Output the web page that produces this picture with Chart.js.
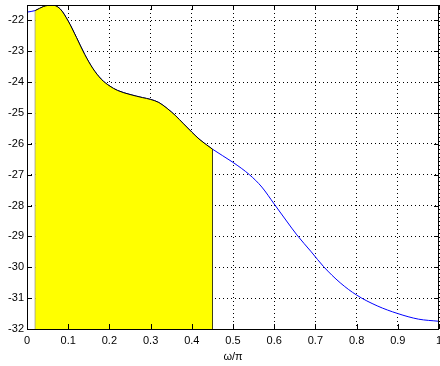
<!DOCTYPE html>
<html>
<head>
<meta charset="utf-8">
<script src="https://cdn.jsdelivr.net/npm/chart.js@4/dist/chart.umd.min.js"></script>
<style>
html, body { margin: 0; padding: 0; background: #fff; }
</style>
</head>
<body>
<canvas id="magChart" width="440" height="366"></canvas>
<script>
// frequency (normalised, w/pi) and magnitude in dB
const freq = [0, 0.02, 0.04, 0.06, 0.08, 0.1, 0.12, 0.14, 0.16, 0.18, 0.2, 0.22, 0.25, 0.28, 0.3,
    0.32, 0.34, 0.36, 0.38, 0.4, 0.42, 0.45, 0.5, 0.54, 0.57, 0.6, 0.63, 0.655, 0.69, 0.72,
    0.76, 0.8, 0.85, 0.9, 0.95, 1];
const magDb = [-21.73, -21.68, -21.55, -21.5, -21.62, -22.02, -22.55, -23.1, -23.56, -23.9, -24.12, -24.27, -24.4, -24.5, -24.56,
    -24.66, -24.85, -25.08, -25.35, -25.62, -25.87, -26.17, -26.6, -27.0, -27.4, -27.95, -28.5, -28.95, -29.5, -29.98,
    -30.5, -30.9, -31.25, -31.5, -31.68, -31.75];

// band that is shaded yellow
const bandStart = 0.02;
const bandEnd = 0.45;

// little vertical stubs of the blue trace at both ends
const leftStub = [-22.0, -21.73];
const rightStub = [-31.75, -32];

const xTicks = [0, 0.1, 0.2, 0.3, 0.4, 0.5, 0.6, 0.7, 0.8, 0.9, 1];
const xTickLabels = ["0", "0.1", "0.2", "0.3", "0.4", "0.5", "0.6", "0.7", "0.8", "0.9", "1"];
const yTicks = [-32, -31, -30, -29, -28, -27, -26, -25, -24, -23, -22];
const yTickLabels = ["-32", "-31", "-30", "-29", "-28", "-27", "-26", "-25", "-24", "-23", "-22"];
const yMin = -32;
const yMax = -21.5;

const curve = freq.map((f, i) => ({ x: f, y: magDb[i] }));
const band = curve.filter((p) => p.x >= bandStart && p.x <= bandEnd);
const bandFirst = band[0];
const bandLast = band[band.length - 1];

Chart.defaults.font.family = "'Liberation Sans', Arial, sans-serif";
Chart.defaults.font.size = 11;
Chart.defaults.color = "#000";

// MATLAB style box with inward ticks, plus the y labels
const boxPlugin = {
    id: "box",
    afterDatasetsDraw(chart) {
        const { ctx, chartArea: a, scales } = chart;
        const len = 5;
        ctx.save();
        ctx.strokeStyle = "#000";
        ctx.lineWidth = 1;
        ctx.beginPath();
        yTicks.forEach((v) => {
            const y = Math.round(scales.y.getPixelForValue(v)) + 0.5;
            ctx.moveTo(a.left, y);
            ctx.lineTo(a.left + len, y);
            ctx.moveTo(a.right, y);
            ctx.lineTo(a.right - len, y);
        });
        xTicks.forEach((v) => {
            const x = Math.round(scales.x.getPixelForValue(v)) + 0.5;
            ctx.moveTo(x, a.bottom);
            ctx.lineTo(x, a.bottom - len);
            ctx.moveTo(x, a.top);
            ctx.lineTo(x, a.top + len);
        });
        ctx.stroke();
        ctx.strokeRect(Math.round(a.left) + 0.5, Math.round(a.top) + 0.5,
            Math.round(a.right - a.left) - 1, Math.round(a.bottom - a.top));
        ctx.restore();
    },
    afterDraw(chart) {
        const { ctx, chartArea: a, scales } = chart;
        ctx.save();
        ctx.fillStyle = "#000";
        ctx.font = "11px 'Liberation Sans', Arial, sans-serif";
        ctx.textAlign = "right";
        ctx.textBaseline = "middle";
        yTicks.forEach((v, i) => {
            ctx.fillText(yTickLabels[i], a.left - 3, scales.y.getPixelForValue(v));
        });
        ctx.restore();
    },
};

const ctx = document.getElementById("magChart").getContext("2d");
new Chart(ctx, {
    type: "line",
    data: {
        datasets: [
            {
                data: band,
                borderColor: "#000",
                borderWidth: 1,
                backgroundColor: "#FFFF00",
                fill: "start",
                cubicInterpolationMode: "monotone",
                pointRadius: 0,
            },
            {
                data: [{ x: bandStart, y: yMin }, { x: bandStart, y: bandFirst.y }],
                borderColor: "#777",
                borderWidth: 1,
                pointRadius: 0,
            },
            {
                data: [{ x: bandEnd, y: yMin }, { x: bandEnd, y: bandLast.y }],
                borderColor: "#000",
                borderWidth: 1,
                pointRadius: 0,
            },
            {
                data: curve,
                borderColor: "#0000FF",
                borderWidth: 1,
                cubicInterpolationMode: "monotone",
                pointRadius: 0,
            },
            {
                data: leftStub.map((v) => ({ x: 0, y: v })),
                borderColor: "#0000FF",
                borderWidth: 1,
                pointRadius: 0,
            },
            {
                data: rightStub.map((v) => ({ x: 1, y: v })),
                borderColor: "#0000FF",
                borderWidth: 1,
                pointRadius: 0,
            },
        ],
    },
    options: {
        responsive: false,
        animation: false,
        devicePixelRatio: 1,
        layout: { padding: { left: 0, top: 5, right: 1, bottom: 0 } },
        plugins: {
            legend: { display: false },
            tooltip: { enabled: false },
        },
        scales: {
            x: {
                type: "linear",
                min: 0,
                max: 1,
                afterBuildTicks: (s) => {
                    s.ticks = xTicks.map((v) => ({ value: v }));
                },
                afterFit: (s) => {
                    s.height = 37;
                    s.paddingLeft = 0;
                    s.paddingRight = 0;
                },
                ticks: {
                    padding: 5,
                    maxRotation: 0,
                    autoSkip: false,
                    callback: (v, i) => xTickLabels[i],
                },
                grid: {
                    color: "#000",
                    drawTicks: false,
                    borderDash: [1, 3],
                },
                border: { display: false, dash: [1, 3] },
                title: {
                    display: true,
                    text: "ω/π",
                    padding: { top: 0, bottom: 2 },
                },
            },
            y: {
                type: "linear",
                min: yMin,
                max: yMax,
                afterBuildTicks: (s) => {
                    s.ticks = yTicks.map((v) => ({ value: v }));
                },
                afterFit: (s) => {
                    s.width = 27;
                    s.paddingTop = 0;
                    s.paddingBottom = 0;
                },
                ticks: { display: false },
                grid: {
                    color: "#000",
                    drawTicks: false,
                    borderDash: [1, 3],
                },
                border: { display: false, dash: [1, 3] },
            },
        },
    },
    plugins: [boxPlugin],
});
</script>
</body>
</html>
